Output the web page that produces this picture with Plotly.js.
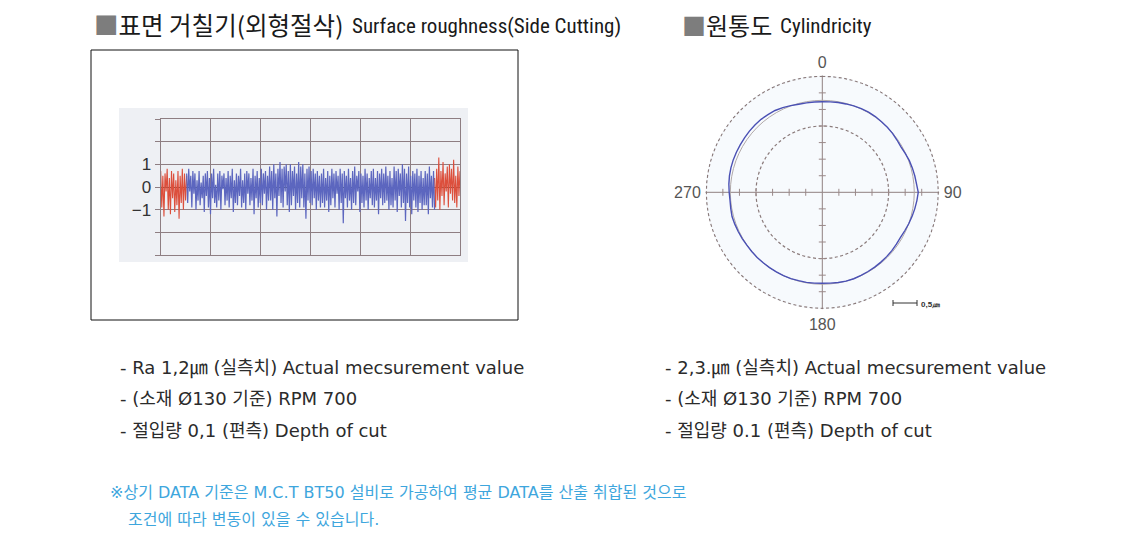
<!DOCTYPE html>
<html><head><meta charset="utf-8">
<script src="https://cdn.plot.ly/plotly-3.0.1.min.js"></script>
<style>html,body{margin:0;padding:0;background:#fff}#chart{width:1135px;height:546px}</style>
</head><body><div id="chart"></div>
<script>
// ---------- Surface roughness profile (µm) ----------
const roughTickVals = [-3, -2, -1, 0, 1, 2, 3];
const roughTickText = ['', '', '\u22121', '0', '1', '', ''];
const roughRedLeft = [0.7,-0.9,0.5,-1.3,0.6,-0.2,0.8,-1.0,0.4,-1.2,0.7,-0.5,0.6,-1.1,0.3,-0.8,0.7,-1.4,0.5,-0.7,0.8,-1.0,0.6,-0.6,0.5];
const roughBlue = [
  0.6,-0.7,0.8,-0.2,0.5,-0.9,0.7,-0.3,0.6,-1.0,
  0.3,-0.6,0.7,-0.8,0.2,-0.5,0.5,-1.1,0.6,-0.4,
  0.7,-0.9,0.4,-1.2,0.6,-0.5,0.8,-0.7,0.1,-0.9,
  0.6,-0.6,0.7,-1.0,0.5,-0.1,0.6,-0.8,0.4,-0.6,
  0.7,-0.9,0.5,-0.5,0.8,-1.1,0.3,-0.7,0.6,-0.8,
  0.5,-0.4,0.8,-0.9,0.3,-0.7,0.6,-1.0,0.7,-0.3,
  0.6,-0.8,0.4,-0.6,0.8,-1.2,0.5,-0.5,0.7,-0.9,
  0.4,-0.7,0.8,-0.8,0.6,-0.3,0.7,-1.0,0.5,-0.6,
  0.9,-0.6,0.7,-1.0,1.0,-0.5,0.6,-1.3,0.8,-0.4,
  1.1,-0.7,0.8,-0.9,0.9,-0.2,1.0,-0.8,0.7,-1.1,
  1.0,-0.8,0.7,-0.4,0.9,-1.0,0.6,-0.7,1.1,-0.9,
  0.9,-0.5,1.0,-0.9,0.6,-1.4,0.8,-0.6,0.9,-0.7,
  0.7,-0.8,0.8,-0.5,0.6,-1.0,0.7,-0.6,0.5,-0.9,
  0.6,-0.7,0.8,-0.9,0.4,-0.6,0.7,-1.1,0.5,-0.8,
  0.8,-0.5,0.6,-0.9,0.7,-0.3,0.5,-1.0,0.8,-0.7,
  0.6,-1.6,0.7,-0.5,0.5,-0.9,0.8,-0.6,0.4,-1.0,
  0.7,-0.7,0.9,-0.8,0.5,-0.2,0.7,-1.1,0.6,-0.7,
  0.5,-0.9,0.8,-0.6,0.6,-1.0,0.4,-0.5,0.7,-0.8,
  0.8,-0.9,0.4,-0.6,0.7,-1.2,0.6,-0.5,0.8,-0.8,
  0.6,-0.7,0.9,-0.6,0.5,-1.0,0.7,-0.8,0.4,-0.9,
  0.9,-0.6,0.7,-1.1,0.8,-0.4,0.6,-0.9,1.0,-0.7,
  0.8,-1.5,0.6,-0.7,0.9,-0.9,0.5,-1.2,0.7,-0.6,
  0.6,-0.9,0.8,-1.1,0.5,-0.7,0.7,-1.0,0.4,-0.8,
  0.7,-0.8,0.6,-1.2,0.9,-0.5,0.5,-0.9,0.7,-1.0
];
const roughRedRight = [0.4,-0.9,0.8,-0.6,1.3,-1.0,0.7,-0.4,1.1,-0.8,0.6,-0.2,0.9,-0.9,1.0,-0.3,0.8,-0.6,1.2,-0.7,0.5,-0.9,0.9,-0.4,0.7];
const roughSegments = {redLeft: [0, 0.52], blue: [0.52, 5.49], redRight: [5.49, 6.0]};

// ---------- Cylindricity polar trace ----------
const cylTheta = [0,5,10,15,20,25,30,35,40,45,50,55,60,65,70,75,80,85,90,95,100,105,110,115,120,125,130,135,140,145,150,155,160,165,170,175,180,185,190,195,200,205,210,215,220,225,230,235,240,245,250,255,260,265,270,275,280,285,290,295,300,305,310,315,320,325,330,335,340,345,350,355,360];
const cylR = [5.46,5.48,5.50,5.52,5.55,5.57,5.58,5.58,5.56,5.55,5.53,5.50,5.48,5.53,5.59,5.63,5.67,5.71,5.79,5.73,5.67,5.61,5.55,5.49,5.45,5.46,5.48,5.49,5.50,5.51,5.52,5.53,5.55,5.55,5.53,5.50,5.49,5.50,5.52,5.52,5.54,5.55,5.55,5.55,5.55,5.56,5.56,5.56,5.58,5.60,5.62,5.64,5.61,5.59,5.62,5.66,5.69,5.71,5.72,5.72,5.72,5.73,5.74,5.75,5.75,5.72,5.70,5.64,5.57,5.50,5.48,5.47,5.46];
const cylRefRadius = 5.55;
const cylOuterRing = 7;
const cylAxisTicks = [1, 2, 3, 4, 5, 6];
const cylAngleLabels = ['0', '90', '180', '270'];
const cylAngleVals = [0, 90, 180, 270];
const cylRadialMax = 7.05;

// ---------- helpers ----------
function seg(vals, range) {
  const step = (range[1] - range[0]) / (vals.length - 1);
  return vals.map((v, i) => range[0] + i * step);
}
const W = 1135, H = 546;
const px = x => x / W, py = y => 1 - y / H;

const traces = [
  {x: seg(roughRedLeft, roughSegments.redLeft), y: roughRedLeft, type: 'scatter', mode: 'lines',
   line: {color: '#dc4f3c', width: 1.1}, hoverinfo: 'skip'},
  {x: seg(roughRedRight, roughSegments.redRight), y: roughRedRight, type: 'scatter', mode: 'lines',
   line: {color: '#dc4f3c', width: 1.1}, hoverinfo: 'skip'},
  {x: seg(roughBlue, roughSegments.blue), y: roughBlue, type: 'scatter', mode: 'lines',
   line: {color: '#5c66bf', width: 1.2}, hoverinfo: 'skip'},
  {type: 'scatterpolar', subplot: 'polar', theta: cylTheta, r: cylTheta.map(() => cylOuterRing),
   mode: 'lines', line: {color: '#8a7a7a', width: 1.2, dash: '3px,2.5px'}, hoverinfo: 'skip'},
  {type: 'scatterpolar', subplot: 'polar', theta: cylTheta, r: cylTheta.map(() => cylRefRadius),
   mode: 'lines', line: {color: '#b0a8a8', width: 1}, hoverinfo: 'skip'},
  {type: 'scatterpolar', subplot: 'polar',
   theta: cylAxisTicks.map(() => 0).concat(cylAxisTicks.map(() => 180)),
   r: cylAxisTicks.concat(cylAxisTicks), mode: 'markers',
   marker: {symbol: 'line-ew', size: 5, line: {color: '#9a8888', width: 1}}, hoverinfo: 'skip'},
  {type: 'scatterpolar', subplot: 'polar',
   theta: cylAxisTicks.map(() => 90).concat(cylAxisTicks.map(() => 270)),
   r: cylAxisTicks.concat(cylAxisTicks), mode: 'markers',
   marker: {symbol: 'line-ns', size: 5, line: {color: '#9a8888', width: 1}}, hoverinfo: 'skip'},
  {type: 'scatterpolar', subplot: 'polar', theta: cylTheta, r: cylR, mode: 'lines',
   line: {color: '#4a50b4', width: 1.4}, hoverinfo: 'skip'}
];

const gridC = '#8e7e82';
const kr = 'Noto Sans CJK KR, Noto Sans, sans-serif';
const body = 'DejaVu Sans, Noto Sans CJK KR, sans-serif';
const narrow = 'Liberation Sans Narrow, Roboto Condensed, DejaVu Sans Condensed, Roboto, sans-serif';
const bodyFont = {family: body, size: 18, color: '#2b2b2b'};
const noteFont = {family: body, size: 16, color: '#3ea6dd'};

function ann(text, x, y, font, extra) {
  return Object.assign({text, x: px(x), y: py(y), xref: 'paper', yref: 'paper', xanchor: 'left',
    yanchor: 'middle', showarrow: false, font}, extra || {});
}
const rPx = 116 * cylRadialMax / 7;

const layout = {
  width: W, height: H, margin: {l: 0, r: 0, t: 0, b: 0},
  paper_bgcolor: '#ffffff', plot_bgcolor: 'rgba(0,0,0,0)', showlegend: false,
  xaxis: {domain: [px(160.7), px(460)], range: [0, 6], dtick: 1, showgrid: true, gridcolor: gridC,
    gridwidth: 1, zeroline: false, showline: true, mirror: true, linecolor: gridC, linewidth: 1.2,
    showticklabels: false, ticks: '', fixedrange: true},
  yaxis: {domain: [py(255), py(119)], range: [-3, 3], tickvals: roughTickVals, ticktext: roughTickText,
    ticks: 'outside', ticklen: 5, tickcolor: gridC, showgrid: true, gridcolor: gridC, gridwidth: 1,
    zeroline: true, zerolinecolor: '#3d4d3f', zerolinewidth: 1, showline: true, mirror: true,
    linecolor: gridC, linewidth: 1.2, tickfont: {family: 'Liberation Sans, Arial, sans-serif', size: 17, color: '#333'},
    fixedrange: true},
  polar: {
    domain: {x: [px(822.3 - rPx), px(822.3 + rPx)], y: [py(192.3 + rPx), py(192.3 - rPx)]},
    bgcolor: '#f7fafd',
    radialaxis: {range: [0, cylRadialMax], tickvals: [4], showticklabels: false, ticks: '', showline: false,
      showgrid: true, gridcolor: '#8a7a7a', griddash: '3px,2.5px', gridwidth: 1.2},
    angularaxis: {rotation: 90, direction: 'clockwise', tickvals: cylAngleVals, ticktext: cylAngleLabels,
      showgrid: true, gridcolor: '#8f8080', gridwidth: 1, showline: false, ticks: 'outside', ticklen: 1,
      tickcolor: 'rgba(0,0,0,0)',
      tickfont: {family: 'Liberation Sans, Arial, sans-serif', size: 16, color: '#555'}}
  },
  shapes: [
    {type: 'rect', xref: 'paper', yref: 'paper', x0: px(119), x1: px(468), y0: py(262), y1: py(108),
     fillcolor: '#eef0f4', line: {width: 0}, layer: 'below'},
    {type: 'rect', xref: 'paper', yref: 'paper', x0: px(91), x1: px(518), y0: py(320), y1: py(50),
     fillcolor: 'rgba(0,0,0,0)', line: {color: '#111', width: 1}},
    {type: 'line', xref: 'paper', yref: 'paper', x0: px(893), x1: px(917), y0: py(303), y1: py(303),
     line: {color: '#333', width: 1}},
    {type: 'line', xref: 'paper', yref: 'paper', x0: px(893), x1: px(893), y0: py(300), y1: py(306),
     line: {color: '#333', width: 1}},
    {type: 'line', xref: 'paper', yref: 'paper', x0: px(917), x1: px(917), y0: py(300), y1: py(306),
     line: {color: '#333', width: 1}}
  ],
  annotations: [
    ann('<span style="color:#7d7d7d">■</span>표면 거칠기(외형절삭)', 92, 25, {family: kr, size: 24.5, color: '#1a1a1a'}),
    ann('Surface roughness(Side Cutting)', 350, 26, {family: narrow, size: 21, color: '#1a1a1a'}),
    ann('<span style="color:#7d7d7d">■</span>원통도', 680, 25, {family: kr, size: 24, color: '#1a1a1a'}),
    ann('Cylindricity', 778, 26, {family: narrow, size: 21, color: '#1a1a1a'}),
    ann('<b>0,5㎛</b>', 919, 304, {family: 'Liberation Sans, Arial, sans-serif', size: 8, color: '#333'}),
    ann('- Ra 1,2㎛ (실측치) Actual mecsurement value', 118, 368, bodyFont),
    ann('- (소재 Ø130 기준) RPM 700', 118, 398, bodyFont),
    ann('- 절입량 0,1 (편측) Depth of cut', 118, 430, bodyFont),
    ann('- 2,3.㎛ (실측치) Actual mecsurement value', 663, 368, bodyFont),
    ann('- (소재 Ø130 기준) RPM 700', 663, 398, bodyFont),
    ann('- 절입량 0.1 (편측) Depth of cut', 663, 430, bodyFont),
    ann('※상기 DATA 기준은 M.C.T BT50 설비로 가공하여 평균 DATA를 산출 취합된 것으로', 108, 492, noteFont),
    ann('조건에 따라 변동이 있을 수 있습니다.', 126, 519, noteFont)
  ]
};

Plotly.newPlot('chart', traces, layout, {displayModeBar: false, staticPlot: true});
</script></body></html>
